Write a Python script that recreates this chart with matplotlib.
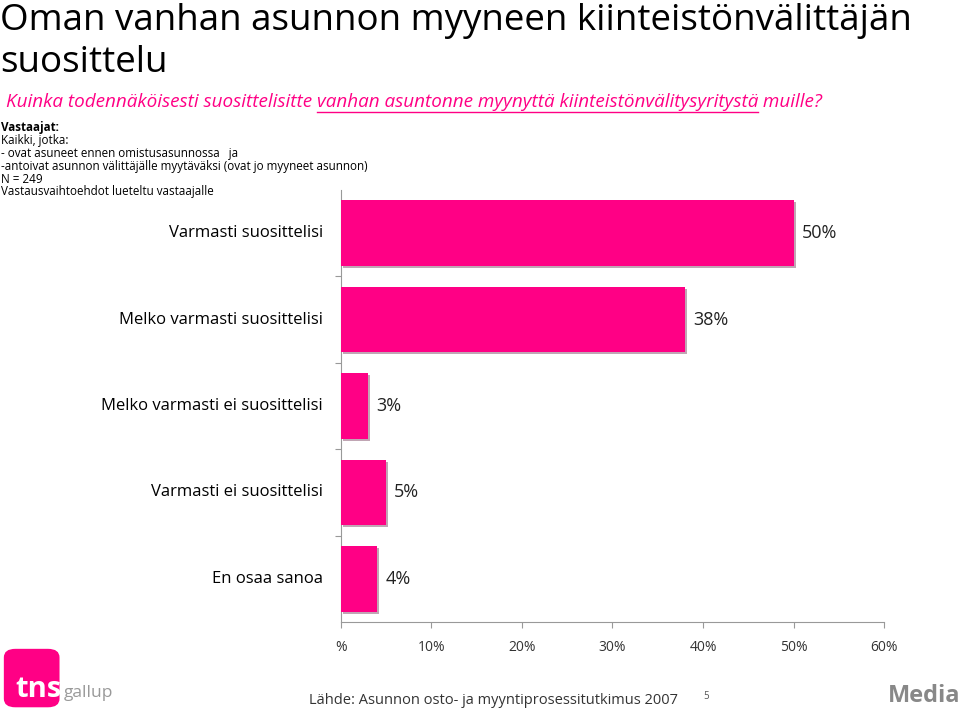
import matplotlib
matplotlib.use("Agg")
import matplotlib.pyplot as plt
from matplotlib.patches import FancyBboxPatch
from matplotlib.lines import Line2D
import matplotlib.patheffects as pe

# ── data ───────────────────────────────────────────────────────────
categories = ["Varmasti suosittelisi", "Melko varmasti suosittelisi",
              "Melko varmasti ei suosittelisi", "Varmasti ei suosittelisi",
              "En osaa sanoa"]
values = [50, 38, 3, 5, 4]
tick_values = [0, 10, 20, 30, 40, 50, 60]
tick_labels = ["%", "10%", "20%", "30%", "40%", "50%", "60%"]

PINK = "#FF0085"
FONT = "Open Sans"
plt.rcParams["font.family"] = [FONT, "DejaVu Sans"]

fig = plt.figure(figsize=(9.6, 7.13), dpi=100)

# ── titles ─────────────────────────────────────────────────────────
fig.text(0.0, 0.958, "Oman vanhan asunnon myyneen kiinteistönvälittäjän",
         fontsize=26.5, va="baseline", ha="left", color="black")
fig.text(0.0, 0.899, "suosittelu", fontsize=26.5, va="baseline", ha="left")

# subtitle with underlined middle part
sub_parts = ["Kuinka todennäköisesti suosittelisitte ",
             "vanhan asuntonne myynyttä kiinteistönvälitysyritystä",
             " muille?"]
renderer = fig.canvas.get_renderer()
x = 0.006
y_sub = 0.850
for i, part in enumerate(sub_parts):
    t = fig.text(x, y_sub, part, fontsize=13.6, style="italic", color=PINK,
                 va="baseline", ha="left")
    bb = t.get_window_extent(renderer).transformed(fig.transFigure.inverted())
    if i == 1:
        fig.add_artist(Line2D([bb.x0, bb.x1], [y_sub - 0.007, y_sub - 0.007],
                              color=PINK, lw=1, transform=fig.transFigure))
    x = bb.x1

resp_lines = ["Kaikki, jotka:",
              "- ovat asuneet ennen omistusasunnossa   ja",
              "-antoivat asunnon välittäjälle myytäväksi (ovat jo myyneet asunnon)",
              "N = 249",
              "Vastausvaihtoehdot lueteltu vastaajalle"]
fig.text(0.001, 0.816, "Vastaajat:", fontsize=8.4, fontweight="bold", va="baseline")
for k, line in enumerate(resp_lines):
    fig.text(0.001, 0.798 - k * 0.018, line, fontsize=8.4, va="baseline")

# ── bar chart ──────────────────────────────────────────────────────
ax = fig.add_axes([0.355, 0.1276, 0.566, 0.606])
ypos = list(range(len(categories)))
bars = ax.barh(ypos, values, height=0.76, color=PINK, zorder=3,
               path_effects=[pe.SimplePatchShadow(offset=(1.5, -1.5), alpha=0.35),
                             pe.Normal()])
ax.set_ylim(len(categories) - 0.5, -0.5)
ax.set_xlim(0, 60)

for b, v in zip(bars, values):
    ax.text(b.get_width() + 0.9, b.get_y() + b.get_height() / 2, f"{v}%",
            va="center", ha="left", fontsize=13, color="#222222")

ax.set_yticks([i + 0.5 for i in ypos[:-1]])
ax.set_yticklabels([])
ax.tick_params(axis="y", length=4, color="#999999", direction="out")
for i, c in enumerate(categories):
    ax.text(-2.0, i, c, ha="right", va="center", fontsize=12, color="black")

ax.set_xticks(tick_values)
ax.set_xticklabels(tick_labels, fontsize=10, color="#333333")
ax.tick_params(axis="x", length=4, color="#999999", pad=9)
for s in ["top", "right"]:
    ax.spines[s].set_visible(False)
for s in ["left", "bottom"]:
    ax.spines[s].set_color("#999999")
    ax.spines[s].set_linewidth(0.8)

# ── footer ─────────────────────────────────────────────────────────
logo = FancyBboxPatch((0.004, 0.008), 0.058, 0.082,
                      boxstyle="round,pad=0,rounding_size=0.012",
                      transform=fig.transFigure, facecolor=PINK, edgecolor="none")
fig.add_artist(logo)
fig.text(0.016, 0.022, "tns", fontsize=21, color="white", fontweight="bold",
         va="baseline")
fig.text(0.066, 0.022, "gallup", fontsize=12.5, color="#999999", va="baseline")
fig.text(0.322, 0.012, "Lähde: Asunnon osto- ja myyntiprosessitutkimus 2007",
         fontsize=10.5, color="#333333", va="baseline")
fig.text(0.733, 0.020, "5", fontsize=7, color="#555555", va="baseline")
fig.text(1.0, 0.015, "Media", fontsize=17, fontweight="bold", color="#888888",
         ha="right", va="baseline")

fig.savefig("out.png", dpi=100)
